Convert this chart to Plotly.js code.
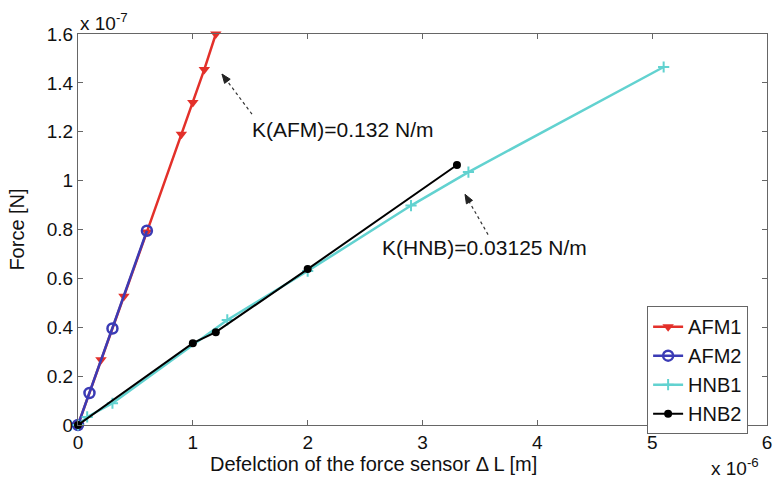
<!DOCTYPE html>
<html>
<head>
<meta charset="utf-8">
<script src="https://cdn.plot.ly/plotly-3.0.1.min.js"></script>
<style>html,body{margin:0;padding:0;background:#fff;}#chart{width:773px;height:485px;}</style>
</head>
<body>
<div id="chart"></div>
<script>
// Deflection in units of 1e-6 m, force in units of 1e-7 N
var afm1X = [0, 0.2, 0.4, 0.6, 0.9, 1.0, 1.1, 1.2];
var afm1Y = [0, 0.267, 0.527, 0.79, 1.19, 1.32, 1.455, 1.6];
var afm2X = [0, 0.1, 0.3, 0.6];
var afm2Y = [0, 0.131, 0.395, 0.795];
var hnb1X = [0, 0.08, 0.3, 1.3, 2.0, 2.9, 3.4, 5.1];
var hnb1Y = [0, 0.033, 0.089, 0.43, 0.63, 0.898, 1.035, 1.465];
var hnb2X = [0, 1.0, 1.2, 2.0, 3.3];
var hnb2Y = [0, 0.335, 0.38, 0.638, 1.064];

var xTicks = [0, 1, 2, 3, 4, 5, 6];
var yTicks = [0, 0.2, 0.4, 0.6, 0.8, 1, 1.2, 1.4, 1.6];

var labelTexts = ['K(AFM)=0.132 N/m', 'K(HNB)=0.03125 N/m'];
var labelX = [1.50, 2.63];
var labelY = [1.21, 0.725];
var arrowTailX = [1.515, 3.571];
var arrowTailY = [1.272, 0.779];
var arrowHeadX = [1.254, 3.370];
var arrowHeadY = [1.436, 0.944];

var FONT = 'Liberation Sans, Arial, sans-serif';
var W = 773, H = 485, ML = 78, MR = 6, MT = 34, MB = 60;
var XR = [0, 6], YR = [0, 1.6];
var pxX = (W - ML - MR) / (XR[1] - XR[0]);
var pxY = (H - MT - MB) / (YR[1] - YR[0]);

var traces = [
  {x: afm1X, y: afm1Y, name: 'AFM1', mode: 'lines+markers', cliponaxis: false,
   line: {color: '#e3302a', width: 2.5},
   marker: {symbol: 'triangle-down', size: 10, color: '#e3302a'}},
  {x: afm2X, y: afm2Y, name: 'AFM2', mode: 'lines+markers', cliponaxis: false,
   line: {color: '#3b3bb5', width: 2.5},
   marker: {symbol: 'circle-open', size: 10, color: '#3b3bb5', line: {width: 2.5, color: '#3b3bb5'}}},
  {x: hnb1X, y: hnb1Y, name: 'HNB1', mode: 'lines+markers', cliponaxis: false,
   line: {color: '#62d2d0', width: 2.5},
   marker: {symbol: 'cross-thin-open', size: 8, color: '#62d2d0', line: {width: 2, color: '#62d2d0'}}},
  {x: hnb2X, y: hnb2Y, name: 'HNB2', mode: 'lines+markers', cliponaxis: false,
   line: {color: '#000000', width: 2},
   marker: {symbol: 'circle', size: 8, color: '#000000'}}
];

var annotations = [];
var shapes = [];
for (var i = 0; i < labelTexts.length; i++) {
  annotations.push({x: labelX[i], y: labelY[i], xref: 'x', yref: 'y', text: labelTexts[i],
    showarrow: false, xanchor: 'left', yanchor: 'middle',
    font: {family: FONT, size: 21, color: '#111'}});
  shapes.push({type: 'line', xref: 'x', yref: 'y', x0: arrowTailX[i], y0: arrowTailY[i],
    x1: arrowHeadX[i], y1: arrowHeadY[i], line: {color: '#333', width: 1.2, dash: 'dot'}});
  // arrowhead triangle computed in pixel space from the arrow direction
  var dx = (arrowHeadX[i] - arrowTailX[i]) * pxX;
  var dy = (arrowHeadY[i] - arrowTailY[i]) * pxY;
  var len = Math.sqrt(dx * dx + dy * dy);
  var ux = dx / len, uy = dy / len;
  var hl = 9, hw = 3.5;
  var bx = -ux * hl, by = -uy * hl;
  var p1x = bx - uy * hw, p1y = by + ux * hw;
  var p2x = bx + uy * hw, p2y = by - ux * hw;
  var toX = function (p) { return arrowHeadX[i] + p / pxX; };
  var toY = function (p) { return arrowHeadY[i] + p / pxY; };
  shapes.push({type: 'path', xref: 'x', yref: 'y',
    path: 'M' + arrowHeadX[i] + ',' + arrowHeadY[i] + ' L' + toX(p1x) + ',' + toY(p1y) +
          ' L' + toX(p2x) + ',' + toY(p2y) + ' Z',
    fillcolor: '#222', line: {color: '#222', width: 1}});
}
annotations.push({xref: 'paper', yref: 'paper', x: 0, y: 1, xanchor: 'left', yanchor: 'bottom',
  text: 'x 10<sup>-7</sup>', showarrow: false, yshift: -2,
  font: {family: FONT, size: 19, color: '#111'}});
annotations.push({xref: 'paper', yref: 'paper', x: 0.916, y: 0, xanchor: 'left', yanchor: 'top',
  text: 'x 10<sup>-6</sup>', showarrow: false, yshift: -28,
  font: {family: FONT, size: 19, color: '#111'}});
annotations.push({xref: 'paper', yref: 'paper', x: 0.429, y: 0, xanchor: 'center', yanchor: 'top',
  text: 'Defelction of the force sensor \u0394 L [m]', showarrow: false, yshift: -26,
  font: {family: FONT, size: 20, color: '#111'}});

var axisCommon = {showgrid: false, zeroline: false, showline: true, linecolor: '#666', linewidth: 1,
  mirror: 'ticks', ticks: 'inside', ticklen: 5, tickcolor: '#666',
  tickfont: {family: FONT, size: 19, color: '#111'}};

var layout = {
  width: W, height: H,
  margin: {l: ML, r: MR, t: MT, b: MB},
  paper_bgcolor: '#fff', plot_bgcolor: '#fff',
  font: {family: FONT, color: '#111'},
  xaxis: Object.assign({}, axisCommon, {range: XR, tickvals: xTicks, ticktext: xTicks.map(String)}),
  yaxis: Object.assign({}, axisCommon, {range: YR, tickvals: yTicks, ticktext: yTicks.map(String),
    title: {text: 'Force [N]', font: {family: FONT, size: 20, color: '#111'}, standoff: 16}}),
  legend: {x: 0.826, y: 0.304, xanchor: 'left', yanchor: 'top', bgcolor: '#fff',
    bordercolor: '#666', borderwidth: 1, font: {family: FONT, size: 20, color: '#111'},
    tracegroupgap: 0, itemwidth: 30},
  showlegend: true,
  annotations: annotations,
  shapes: shapes
};

Plotly.newPlot('chart', traces, layout, {displayModeBar: false, staticPlot: true});
</script>
</body>
</html>
